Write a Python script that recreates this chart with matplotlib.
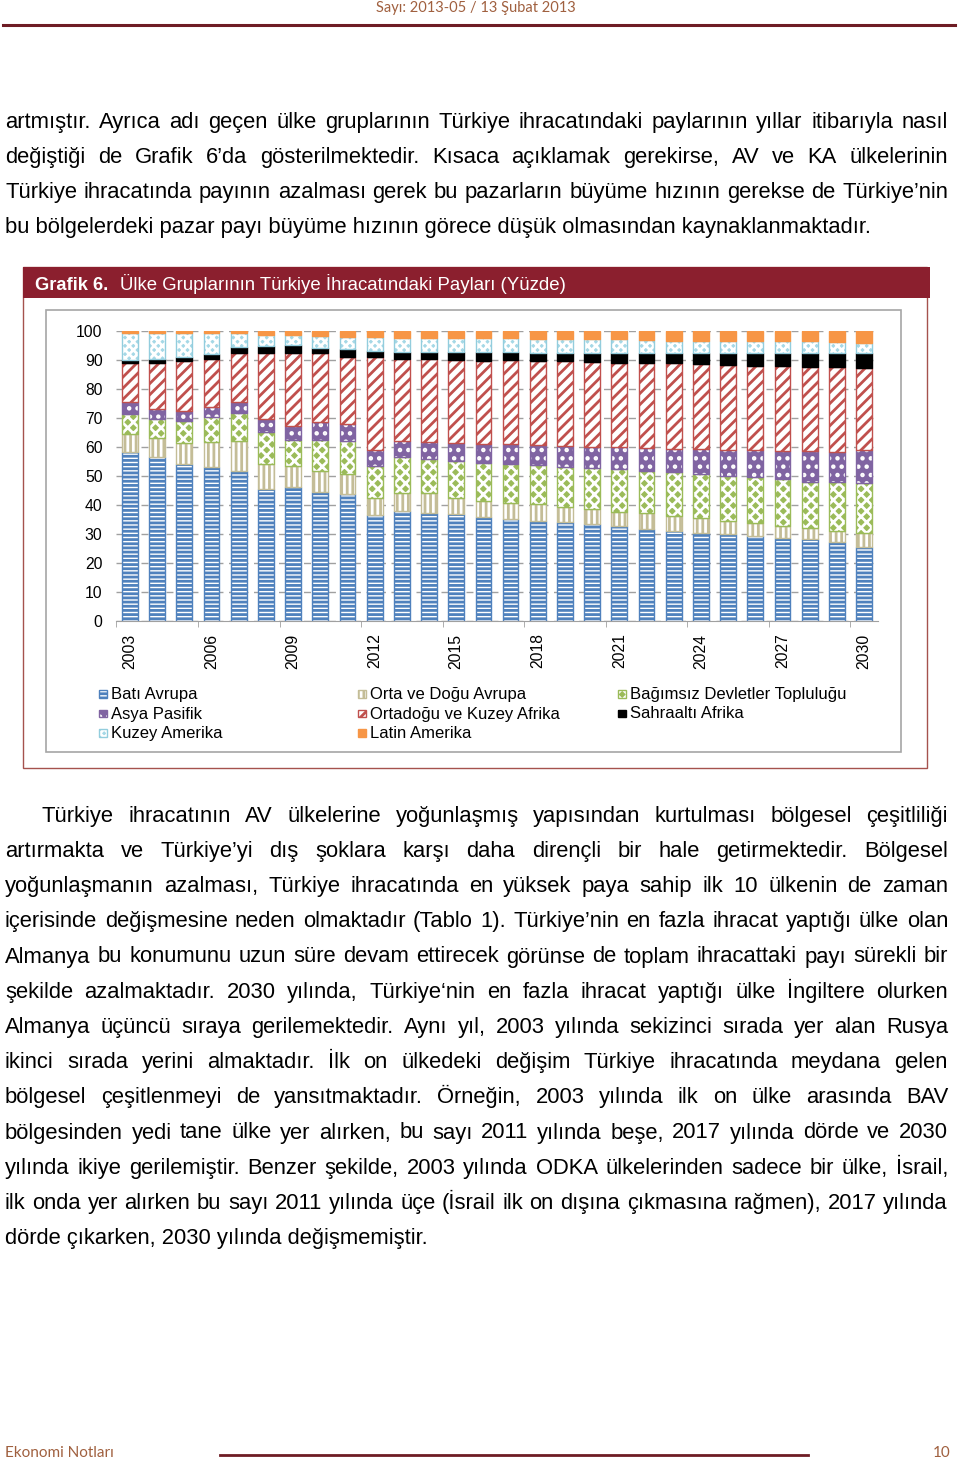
import matplotlib
matplotlib.use('Agg')
import matplotlib.pyplot as plt
from matplotlib.patches import Rectangle
from matplotlib.lines import Line2D
import numpy as np

plt.rcParams['hatch.linewidth'] = 2.0

# --- data: shares of Turkish exports by country group (%) ---
years = list(range(2003, 2031))
bati   = [58.2, 56.7, 54.1, 53.2, 51.8, 45.5, 46.1, 44.6, 43.7, 36.6, 37.9, 37.4, 36.8, 36.0,
          35.2, 34.6, 34.0, 33.4, 32.8, 31.7, 31.1, 30.5, 29.9, 29.3, 28.7, 28.2, 27.4, 25.6]
orta   = [6.3, 6.3, 7.4, 8.5, 10.3, 8.6, 7.5, 7.2, 7.0, 5.7, 6.1, 6.6, 5.5, 5.4,
          5.6, 5.6, 5.4, 5.2, 4.9, 5.4, 5.2, 4.9, 4.7, 4.4, 4.2, 4.0, 3.7, 4.6]
bdt    = [6.8, 6.7, 7.6, 8.5, 9.7, 11.2, 8.8, 10.6, 11.5, 11.3, 12.4, 11.7, 13.0, 13.2,
          13.3, 13.6, 13.8, 14.0, 14.7, 14.7, 15.0, 15.3, 15.5, 15.8, 16.0, 15.8, 16.7, 17.3]
asya   = [4.3, 3.3, 3.4, 3.5, 3.6, 4.2, 4.8, 6.1, 5.7, 5.4, 5.8, 6.1, 6.0, 6.3,
          6.8, 6.9, 7.1, 7.5, 7.5, 7.7, 8.0, 8.5, 8.9, 9.5, 9.8, 10.6, 10.4, 11.5]
odka   = [13.3, 15.9, 17.3, 16.5, 17.1, 22.8, 25.3, 24.0, 23.2, 31.9, 28.0, 28.4, 28.7, 28.9,
          29.1, 29.0, 29.4, 29.1, 29.2, 29.4, 29.6, 29.3, 29.3, 29.0, 29.2, 29.1, 29.3, 28.1]
sahra  = [1.1, 1.3, 1.3, 1.9, 1.9, 2.5, 2.7, 1.8, 2.6, 2.3, 2.7, 2.7, 2.6, 2.8,
          2.6, 2.7, 2.7, 3.1, 3.2, 3.6, 3.6, 3.8, 4.0, 4.3, 4.4, 4.6, 4.8, 5.2]
kuzey  = [9.2, 9.0, 8.1, 7.1, 4.8, 3.8, 3.4, 4.0, 4.1, 4.6, 4.6, 4.6, 4.9, 4.9,
          4.9, 4.8, 4.8, 4.9, 4.9, 4.4, 4.1, 4.3, 4.3, 4.3, 4.3, 4.3, 4.0, 3.7]
latin  = [0.8, 0.8, 0.8, 0.8, 0.8, 1.4, 1.4, 1.7, 2.2, 2.2, 2.5, 2.5, 2.5, 2.5,
          2.5, 2.8, 2.8, 2.8, 2.8, 3.1, 3.4, 3.4, 3.4, 3.4, 3.4, 3.4, 3.7, 4.0]

names = ['Batı Avrupa', 'Orta ve Doğu Avrupa', 'Bağımsız Devletler Topluluğu', 'Asya Pasifik',
         'Ortadoğu ve Kuzey Afrika', 'Sahraaltı Afrika', 'Kuzey Amerika', 'Latin Amerika']
values = [bati, orta, bdt, asya, odka, sahra, kuzey, latin]

# face colour, hatch colour, hatch, outline
styles = [
    ('white',   '#4F81BD', '----', '#4F81BD'),
    ('white',   '#C4BD97', '|||',  '#C4BD97'),
    ('#9BBB59', 'white',   'xxx',  '#9BBB59'),
    ('#8064A2', 'white',   '..',   '#8064A2'),
    ('white',   '#C0504D', '///',  '#C0504D'),
    ('black',   'black',   None,   'black'),
    ('#A5D8E6', 'white',   'xxxx', '#93CDDD'),
    ('#F79646', '#F79646', None,   '#F79646'),
]

para1 = [
    "artmıştır. Ayrıca adı geçen ülke gruplarının Türkiye ihracatındaki paylarının yıllar itibarıyla nasıl",
    "değiştiği de Grafik 6’da gösterilmektedir. Kısaca açıklamak gerekirse, AV ve KA ülkelerinin",
    "Türkiye ihracatında payının azalması gerek bu pazarların büyüme hızının gerekse de Türkiye’nin",
    "bu bölgelerdeki pazar payı büyüme hızının görece düşük olmasından kaynaklanmaktadır.",
]
para2 = [
    "Türkiye ihracatının AV ülkelerine yoğunlaşmış yapısından kurtulması bölgesel çeşitliliği",
    "artırmakta ve Türkiye’yi dış şoklara karşı daha dirençli bir hale getirmektedir. Bölgesel",
    "yoğunlaşmanın azalması, Türkiye ihracatında en yüksek paya sahip ilk 10 ülkenin de zaman",
    "içerisinde değişmesine neden olmaktadır (Tablo 1). Türkiye’nin en fazla ihracat yaptığı ülke olan",
    "Almanya bu konumunu uzun süre devam ettirecek görünse de toplam ihracattaki payı sürekli bir",
    "şekilde azalmaktadır. 2030 yılında, Türkiye‘nin en fazla ihracat yaptığı ülke İngiltere olurken",
    "Almanya üçüncü sıraya gerilemektedir. Aynı yıl, 2003 yılında sekizinci sırada yer alan Rusya",
    "ikinci sırada yerini almaktadır. İlk on ülkedeki değişim Türkiye ihracatında meydana gelen",
    "bölgesel çeşitlenmeyi de yansıtmaktadır. Örneğin, 2003 yılında ilk on ülke arasında BAV",
    "bölgesinden yedi tane ülke yer alırken, bu sayı 2011 yılında beşe, 2017 yılında dörde ve 2030",
    "yılında ikiye gerilemiştir. Benzer şekilde, 2003 yılında ODKA ülkelerinden sadece bir ülke, İsrail,",
    "ilk onda yer alırken bu sayı 2011 yılında üçe (İsrail ilk on dışına çıkmasına rağmen), 2017 yılında",
    "dörde çıkarken, 2030 yılında değişmemiştir.",
]

BODY = 'Liberation Sans'
W, H = 960, 1463
fig = plt.figure(figsize=(W / 100, H / 100), dpi=100)
renderer = fig.canvas.get_renderer()


def fx(x):
    return x / W


def fy(y):
    return 1 - y / H


def text_line(s, y, x0=5, x1=948, justify=True, size=15.85):
    """Draw one line of body text, spread to the right margin when justify is on"""
    if not justify:
        fig.text(fx(x0), fy(y), s, fontsize=size, family=BODY, va='baseline')
        return
    words = s.split()
    objs = [fig.text(0, fy(y), w, fontsize=size, family=BODY, va='baseline') for w in words]
    widths = [t.get_window_extent(renderer).width for t in objs]
    gap = (x1 - x0 - sum(widths)) / (len(words) - 1)
    x = x0
    for t, w in zip(objs, widths):
        t.set_x(fx(x))
        x += w + gap


def hline(x0, x1, y, color, lw):
    fig.add_artist(Line2D([fx(x0), fx(x1)], [fy(y), fy(y)], color=color, lw=lw,
                          transform=fig.transFigure))


# header / footer
brown = '#A0603F'
fig.text(fx(476), fy(8), 'Sayı: 2013-05 / 13 Şubat 2013', ha='center', va='center',
         fontsize=10.5, family='Lato', color=brown)
hline(3, 955, 25, '#6E1C24', 2.2)
fig.text(fx(5), fy(1453), 'Ekonomi Notları', ha='left', va='center',
         fontsize=11, family='Lato', color=brown)
fig.text(fx(951), fy(1453), '10', ha='right', va='center',
         fontsize=11, family='Lato', color=brown)
hline(220, 808, 1455, '#6E1C24', 2.0)

# paragraphs
for i, s in enumerate(para1):
    text_line(s, 128 + i * 35.1, justify=(i < len(para1) - 1))
for i, s in enumerate(para2):
    text_line(s, 821.7 + i * 35.2, x0=42 if i == 0 else 5, justify=(i < len(para2) - 1))

# chart frame and title bar
fig.add_artist(Rectangle((fx(23), fy(768)), (927 - 23) / W, (768 - 267) / H,
                         transform=fig.transFigure, facecolor='none', edgecolor='#A5524E', lw=1))
fig.add_artist(Rectangle((fx(23), fy(298)), (930 - 23) / W, (298 - 267) / H,
                         transform=fig.transFigure, facecolor='#8B1F2E', edgecolor='none'))
fig.text(fx(35), fy(290), 'Grafik 6.', fontsize=13.2, family=BODY, weight='bold',
         color='white', va='baseline')
fig.text(fx(120), fy(290), 'Ülke Gruplarının Türkiye İhracatındaki Payları (Yüzde)',
         fontsize=13.4, family=BODY, color='white', va='baseline')
fig.add_artist(Rectangle((fx(46), fy(752)), (901 - 46) / W, (752 - 310) / H,
                         transform=fig.transFigure, facecolor='none', edgecolor='#A6A6A6', lw=1.2))

# stacked bars
ax = fig.add_axes([fx(116.4), fy(621), (877.6 - 116.4) / W, (621 - 331) / H])
x = np.arange(len(years))
bottom = np.zeros(len(years))
for vals, (face, hc, hatch, edge) in zip(values, styles):
    v = np.array(vals)
    ax.bar(x, v, 0.58, bottom=bottom, color=face, edgecolor=hc, hatch=hatch, linewidth=0)
    ax.bar(x, v, 0.58, bottom=bottom, fill=False, edgecolor=edge, linewidth=1)
    bottom += v

ax.set_xlim(-0.5, len(years) - 0.5)
ax.set_ylim(0, 100)
ax.set_yticks(range(0, 101, 10))
ax.yaxis.grid(True, linestyle=(0, (5, 4)), color='#A0A0A0', linewidth=1)
ax.set_axisbelow(True)
ax.tick_params(axis='y', length=0, pad=10, labelsize=11.3)
ax.set_xticks(x[::3])
ax.set_xticklabels([str(y) for y in years[::3]], rotation=90, fontsize=11.3)
ax.set_xticks(np.arange(-0.5, len(years) - 0.5, 3), minor=True)
ax.tick_params(axis='x', which='major', length=0, pad=9)
ax.tick_params(axis='x', which='minor', length=4, color='#A0A0A0', direction='out')
for lbl in ax.get_xticklabels() + ax.get_yticklabels():
    lbl.set_family(BODY)
for side in ['left', 'right', 'top']:
    ax.spines[side].set_visible(False)
ax.spines['bottom'].set_color('#A0A0A0')
ax.patch.set_alpha(0)

# legend drawn by hand: three columns, row-major
col_x = [99, 358, 618]
row_y = [699, 718.5, 738]
for k, (name, (face, hc, hatch, edge)) in enumerate(zip(names, styles)):
    cx = col_x[k % 3]
    ry = row_y[k // 3]
    r = Rectangle((fx(cx), fy(ry - 1)), 8 / W, 8 / H, transform=fig.transFigure,
                  facecolor=face, edgecolor=hc, hatch=hatch, lw=0)
    fig.add_artist(r)
    fig.add_artist(Rectangle((fx(cx), fy(ry - 1)), 8 / W, 8 / H, transform=fig.transFigure,
                             fill=False, edgecolor=edge, lw=1))
    fig.text(fx(cx + 12), fy(ry), name, fontsize=12, family=BODY, va='baseline')

fig.savefig('out.png', dpi=100, facecolor='white')
